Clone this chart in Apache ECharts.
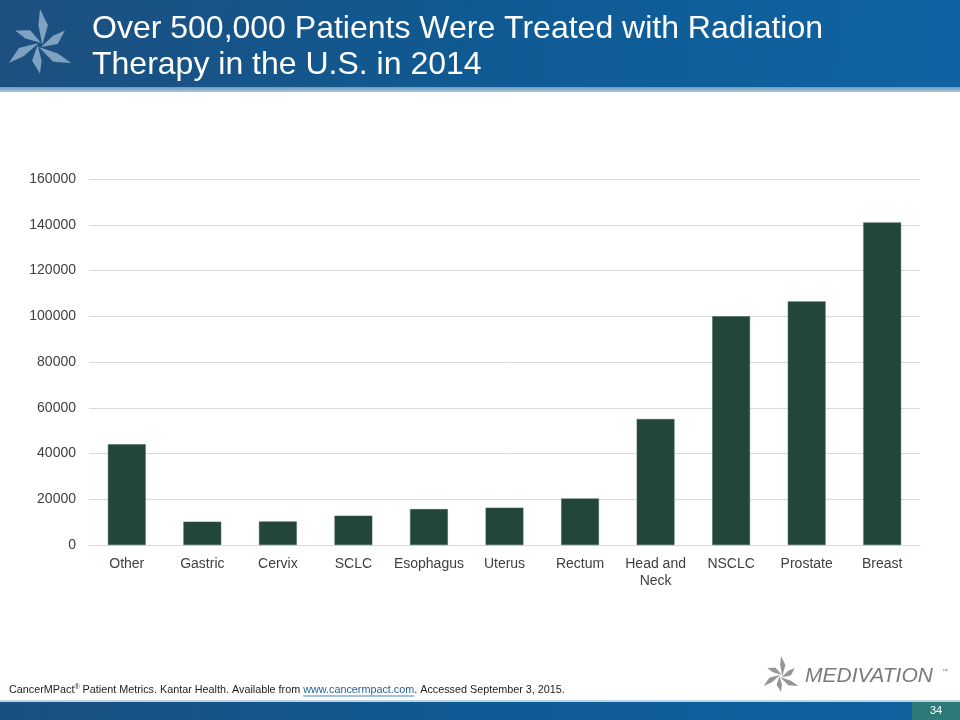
<!DOCTYPE html>
<html>
<head>
<meta charset="utf-8">
<script src="https://cdn.jsdelivr.net/npm/echarts@6/dist/echarts.min.js"></script>
<style>html,body{margin:0;padding:0;background:#fff}#c{width:960px;height:720px}</style>
</head>
<body>
<div id="c"></div>
<script>
const categories = ['Other', 'Gastric', 'Cervix', 'SCLC', 'Esophagus', 'Uterus', 'Rectum', 'Head and\nNeck', 'NSCLC', 'Prostate', 'Breast'];
const patients = [44000, 10200, 10300, 12800, 15700, 16300, 20300, 55100, 100000, 106500, 141000];
const yTicks = [0, 20000, 40000, 60000, 80000, 100000, 120000, 140000, 160000];
const titleLines = ['Over 500,000 Patients Were Treated with Radiation', 'Therapy in the U.S. in 2014'];
const footPre = 'CancerMPact';
const footMid = ' Patient Metrics. Kantar Health. Available from ';
const footLink = 'www.cancermpact.com';
const footPost = '. Accessed September 3, 2015.';
const pageNo = '34';

const chart = echarts.init(document.getElementById('c'));

function starArms(cx, cy, r, color, opacity, z) {
  const arms = [];
  [90, 210, 330, 30, 150, 270].forEach((a, i) => {
    const rad = a * Math.PI / 180;
    const len = i < 3 ? r : r * 0.8;
    const w = r * 0.22;
    const dx = Math.cos(rad), dy = -Math.sin(rad);
    const px = -dy, py = dx;
    arms.push({
      type: 'polygon', z: z,
      shape: { points: [
        [cx + px * w * 0.3, cy + py * w * 0.3],
        [cx + dx * len * 0.55 + px * w, cy + dy * len * 0.55 + py * w],
        [cx + dx * len, cy + dy * len],
        [cx + dx * len * 0.55 - px * w * 0.2, cy + dy * len * 0.55 - py * w * 0.2]
      ] },
      style: { fill: color, opacity: opacity }
    });
  });
  return arms;
}

const footFont = '10.8px "Liberation Sans", Arial, sans-serif';
const supFont = '7px "Liberation Sans", Arial, sans-serif';
const ctx = document.createElement('canvas').getContext('2d');
ctx.font = footFont;
const w1 = ctx.measureText(footPre).width;
ctx.font = supFont;
const wS = ctx.measureText('®').width;
ctx.font = footFont;
const w2 = ctx.measureText(footMid).width;
const wL = ctx.measureText(footLink).width;
const footX = 9;
const linkX = footX + w1 + wS + w2;

const option = {
  animation: false,
  backgroundColor: '#ffffff',
  grid: { left: 89, right: 40, top: 179, bottom: 175, containLabel: false },
  xAxis: {
    type: 'category',
    data: categories,
    axisLine: { show: true, lineStyle: { color: '#d9d9d9', width: 1 } },
    axisTick: { show: false },
    axisLabel: { color: '#404040', fontSize: 14, fontFamily: 'Liberation Sans, Arial, sans-serif', margin: 11, lineHeight: 17, interval: 0 }
  },
  yAxis: {
    type: 'value',
    min: 0, max: 160000, interval: 20000,
    axisLine: { show: false },
    axisTick: { show: false },
    splitLine: { lineStyle: { color: '#d9d9d9', width: 1 } },
    axisLabel: { color: '#404040', fontSize: 14, fontFamily: 'Liberation Sans, Arial, sans-serif', margin: 13,
      formatter: v => yTicks.includes(v) ? String(v) : '' }
  },
  series: [{
    type: 'bar',
    data: patients,
    barWidth: '50%',
    itemStyle: { color: '#23463a', borderColor: '#3e5f52', borderWidth: 0.5 }
  }],
  graphic: [
    { type: 'rect', left: 0, top: 0, z: 1, shape: { width: 960, height: 88 },
      style: { fill: new echarts.graphic.LinearGradient(0, 0, 1, 1, [
        { offset: 0, color: '#1d4f7e' }, { offset: 0.5, color: '#0f5a93' }, { offset: 1, color: '#1063a2' }]) } },
    { type: 'rect', left: 0, top: 87, z: 1, shape: { width: 960, height: 5 },
      style: { fill: new echarts.graphic.LinearGradient(0, 0, 0, 1, [
        { offset: 0, color: '#6e9bbd' }, { offset: 1, color: '#a9c6da' }]) } },
    { type: 'group', z: 5, children: starArms(40, 45, 36, '#8fb0cb', 0.85, 5) },
    { type: 'text', left: 92, top: 11, z: 6,
      style: { text: titleLines.join('\n'), fill: '#ffffff', font: '32px "Liberation Sans", Arial, sans-serif', lineHeight: 36 } },
    // footer
    { type: 'rect', left: 0, top: 700, z: 1, shape: { width: 960, height: 2 }, style: { fill: '#bcd3e3' } },
    { type: 'rect', left: 0, top: 702, z: 1, shape: { width: 960, height: 18 },
      style: { fill: new echarts.graphic.LinearGradient(0, 0, 1, 0, [
        { offset: 0, color: '#1a4f80' }, { offset: 0.5, color: '#0f5a95' }, { offset: 1, color: '#1062a0' }]) } },
    { type: 'rect', left: 912, top: 702, z: 2, shape: { width: 48, height: 18 }, style: { fill: '#2c7a78' } },
    { type: 'text', left: 930, top: 705, z: 3, style: { text: pageNo, fill: '#ffffff', font: '11px "Liberation Sans", Arial, sans-serif' } },
    { type: 'text', left: footX, top: 684, z: 3,
      style: { text: '{a|' + footPre + '}{s|®}{a|' + footMid + '}{l|' + footLink + '}{a|' + footPost + '}',
        rich: {
          a: { fill: '#222222', font: footFont },
          s: { fill: '#222222', font: supFont, verticalAlign: 'top', padding: [0, 0, 5, 0] },
          l: { fill: '#1f5f9a', font: footFont }
        } } },
    { type: 'line', z: 3, shape: { x1: linkX, y1: 696, x2: linkX + wL, y2: 696 }, style: { stroke: '#1f5f9a', lineWidth: 0.8 } },
    { type: 'group', z: 5, children: starArms(781, 676, 20, '#8a8a8a', 0.9, 5) },
    { type: 'text', left: 805, top: 666, z: 3,
      style: { text: 'MEDIVATION', fill: '#7a7a7a', font: 'italic 21px "Liberation Sans", Arial, sans-serif' } },
    { type: 'text', left: 942, top: 668, z: 3, style: { text: '™', fill: '#7a7a7a', font: '6px "Liberation Sans", Arial, sans-serif' } }
  ]
};
chart.setOption(option);
</script>
</body>
</html>
